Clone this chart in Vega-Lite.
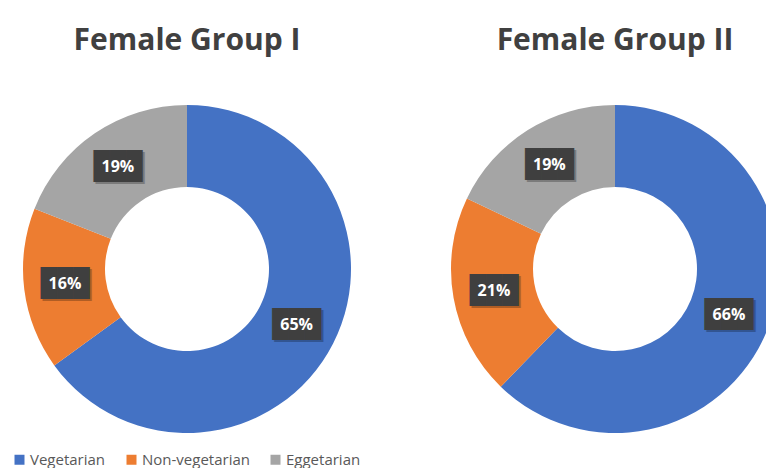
{
  "$schema": "https://vega.github.io/schema/vega-lite/v6.json",
  "background": "white",
  "padding": {"top": 26, "left": 12, "right": 0, "bottom": 0},
  "datasets": {
    "g1": [
      {"diet": "Vegetarian", "pct": 0.65},
      {"diet": "Non-vegetarian", "pct": 0.16},
      {"diet": "Eggetarian", "pct": 0.19}
    ],
    "g2": [
      {"diet": "Vegetarian", "pct": 0.66},
      {"diet": "Non-vegetarian", "pct": 0.21},
      {"diet": "Eggetarian", "pct": 0.19}
    ]
  },
  "spacing": 78,
  "resolve": {"scale": {"color": "shared"}, "legend": {"color": "shared"}},
  "hconcat": [
    {
      "title": {"text": "Female Group I"},
      "width": 350,
      "height": 328,
      "data": {"name": "g1"},
      "encoding": {
        "theta": {"field": "pct", "type": "quantitative", "stack": true},
        "order": {"field": "diet", "sort": "descending"},
        "color": {
          "field": "diet",
          "type": "nominal",
          "scale": {"domain": ["Vegetarian", "Non-vegetarian", "Eggetarian"], "range": ["#4472C4", "#ED7D31", "#A5A5A5"]}
        }
      },
      "layer": [
        {"mark": {"type": "arc", "outerRadius": 164, "innerRadius": 82}},
        {"mark": {"type": "text", "text": "███", "radius": 123, "dx": 2, "dy": 2, "font": "DejaVu Sans Mono", "fontSize": 27, "baseline": "middle", "opacity": 0.25}, "encoding": {"color": {"value": "#000000"}}},
        {"mark": {"type": "text", "text": "███", "radius": 123, "font": "DejaVu Sans Mono", "fontSize": 27, "baseline": "middle"}, "encoding": {"color": {"value": "#3f3f3f"}}},
        {"mark": {"type": "text", "radius": 123, "font": "Open Sans", "fontWeight": "bold", "fontSize": 16, "baseline": "middle"}, "encoding": {"text": {"field": "pct", "type": "quantitative", "format": ".0%"}, "color": {"value": "#ffffff"}}}
      ]
    },
    {
      "title": {"text": "Female Group II"},
      "width": 350,
      "height": 328,
      "data": {"name": "g2"},
      "encoding": {
        "theta": {"field": "pct", "type": "quantitative", "stack": true},
        "order": {"field": "diet", "sort": "descending"},
        "color": {
          "field": "diet",
          "type": "nominal",
          "scale": {"domain": ["Vegetarian", "Non-vegetarian", "Eggetarian"], "range": ["#4472C4", "#ED7D31", "#A5A5A5"]}
        }
      },
      "layer": [
        {"mark": {"type": "arc", "outerRadius": 164, "innerRadius": 82}},
        {"mark": {"type": "text", "text": "███", "radius": 123, "dx": 2, "dy": 2, "font": "DejaVu Sans Mono", "fontSize": 27, "baseline": "middle", "opacity": 0.25}, "encoding": {"color": {"value": "#000000"}}},
        {"mark": {"type": "text", "text": "███", "radius": 123, "font": "DejaVu Sans Mono", "fontSize": 27, "baseline": "middle"}, "encoding": {"color": {"value": "#3f3f3f"}}},
        {"mark": {"type": "text", "radius": 123, "font": "Open Sans", "fontWeight": "bold", "fontSize": 16, "baseline": "middle"}, "encoding": {"text": {"field": "pct", "type": "quantitative", "format": ".0%"}, "color": {"value": "#ffffff"}}}
      ]
    }
  ],
  "config": {
    "view": {"stroke": null},
    "title": {"font": "Open Sans", "fontWeight": "bold", "fontSize": 30, "color": "#404040", "anchor": "middle", "offset": 49},
    "legend": {
      "orient": "bottom",
      "direction": "horizontal",
      "title": null,
      "symbolType": "square",
      "symbolSize": 100,
      "symbolStrokeWidth": 0,
      "labelFont": "Open Sans",
      "labelFontSize": 15,
      "labelColor": "#595959",
      "labelOffset": 3,
      "columnPadding": 18,
      "offset": 19
    }
  }
}
